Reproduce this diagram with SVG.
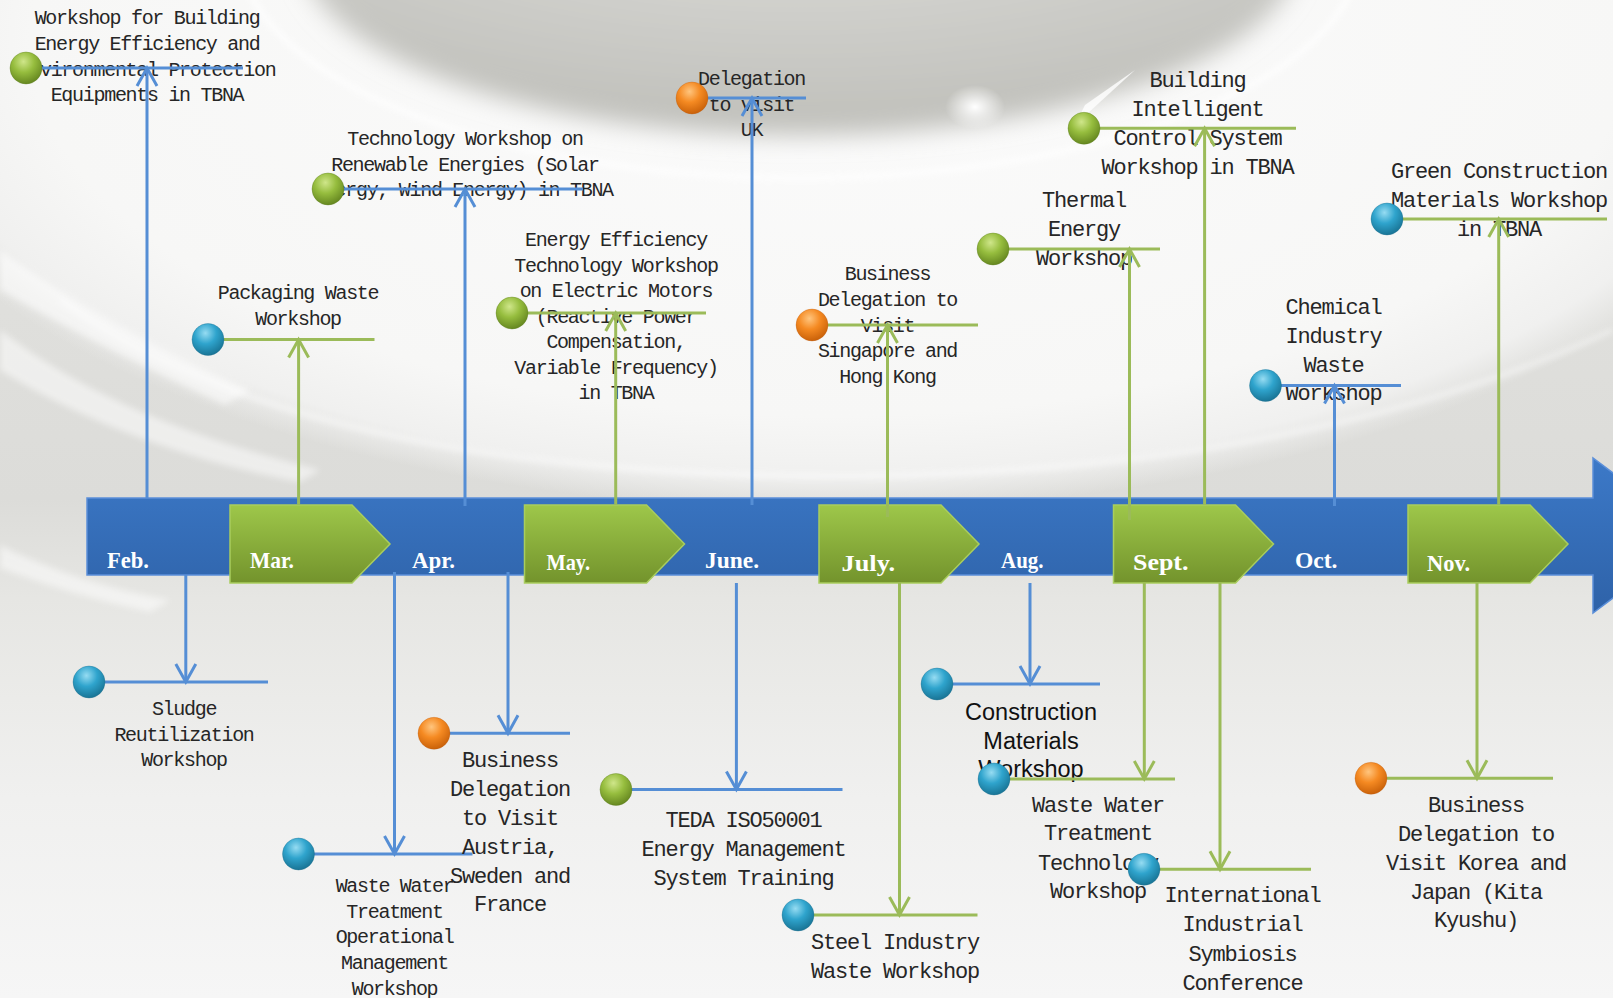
<svg xmlns="http://www.w3.org/2000/svg" width="1613" height="998" viewBox="0 0 1613 998">
<style>
.s{font-family:"Liberation Mono","DejaVu Sans Mono",monospace;font-size:20px;letter-spacing:-1.3px;fill:#262626;text-anchor:middle}
.l{font-family:"Liberation Mono","DejaVu Sans Mono",monospace;font-size:22px;letter-spacing:-1.2px;fill:#262626;text-anchor:middle}
.a{font-family:"Liberation Sans",Arial,sans-serif;font-size:23.5px;fill:#111;text-anchor:middle}
.m{font-family:"Liberation Serif","Times New Roman",serif;font-size:24px;font-weight:bold;fill:#fff}
.hb{stroke:#558ed5;stroke-width:3;fill:none}
.hg{stroke:#9bbb59;stroke-width:3;fill:none}
.cb{stroke:#558ed5;stroke-width:3;fill:none;marker-end:url(#ab)}
.cg{stroke:#9bbb59;stroke-width:3;fill:none;marker-end:url(#ag)}
.bg{fill:url(#gBlue);stroke:#1c6d8c;stroke-opacity:.35;stroke-width:1}
.gg{fill:url(#gGreen);stroke:#5a7a1a;stroke-opacity:.35;stroke-width:1}
.og{fill:url(#gOrange);stroke:#b85a10;stroke-opacity:.3;stroke-width:1}
.chev{fill:url(#chevG);stroke:#a9cd5e;stroke-width:1.5}
</style>
<defs>
<filter id="soft" x="-20%" y="-40%" width="140%" height="180%"><feGaussianBlur stdDeviation="12"/></filter>
<filter id="soft2" x="-10%" y="-30%" width="120%" height="160%"><feGaussianBlur stdDeviation="3"/></filter>
<linearGradient id="bgV" x1="0" y1="0" x2="0" y2="1">
<stop offset="0" stop-color="#e4e4e1"/><stop offset="0.5" stop-color="#dcdcd9"/><stop offset="0.6" stop-color="#e6e6e3"/><stop offset="0.8" stop-color="#f0f0ef"/><stop offset="1" stop-color="#f6f6f6"/>
</linearGradient>
<radialGradient id="bigOval" cx="0.5" cy="0.5" r="0.5">
<stop offset="0" stop-color="#fbfbfb"/><stop offset="0.8" stop-color="#f7f7f6"/><stop offset="0.93" stop-color="#f0f0ef"/><stop offset="1" stop-color="#f0f0ef" stop-opacity="0"/>
</radialGradient>
<radialGradient id="innerGray" cx="0.5" cy="0.2" r="0.8">
<stop offset="0" stop-color="#e4e4e1"/><stop offset="0.55" stop-color="#d0d0cc"/><stop offset="1" stop-color="#bfbfba"/>
</radialGradient>
<radialGradient id="spot" cx="0.5" cy="0.5" r="0.5">
<stop offset="0" stop-color="#ffffff"/><stop offset="1" stop-color="#ffffff" stop-opacity="0"/>
</radialGradient>
<linearGradient id="barG" x1="0" y1="0" x2="0" y2="1">
<stop offset="0" stop-color="#3c79c8"/><stop offset="1" stop-color="#2e62a8"/>
</linearGradient>
<linearGradient id="chevG" x1="0" y1="0" x2="0" y2="1">
<stop offset="0" stop-color="#9ec74a"/><stop offset="1" stop-color="#73932c"/>
</linearGradient>
<radialGradient id="gGreen" cx="0.42" cy="0.3" r="0.75">
<stop offset="0" stop-color="#cfe68a"/><stop offset="0.45" stop-color="#96bd3e"/><stop offset="1" stop-color="#5f801c"/>
</radialGradient>
<radialGradient id="gBlue" cx="0.42" cy="0.3" r="0.75">
<stop offset="0" stop-color="#96dcf2"/><stop offset="0.45" stop-color="#2fa4cd"/><stop offset="1" stop-color="#166e8e"/>
</radialGradient>
<radialGradient id="gOrange" cx="0.42" cy="0.3" r="0.75">
<stop offset="0" stop-color="#ffc57e"/><stop offset="0.45" stop-color="#f58a22"/><stop offset="1" stop-color="#c45c06"/>
</radialGradient>
<marker id="ab" markerUnits="userSpaceOnUse" viewBox="-22 -13 26 26" markerWidth="26" markerHeight="26" refX="0" refY="0" orient="auto">
<path d="M-18,-10 L0,0 L-18,10" fill="none" stroke="#558ed5" stroke-width="3"/>
</marker>
<marker id="ag" markerUnits="userSpaceOnUse" viewBox="-22 -13 26 26" markerWidth="26" markerHeight="26" refX="0" refY="0" orient="auto">
<path d="M-18,-10 L0,0 L-18,10" fill="none" stroke="#9bbb59" stroke-width="3"/>
</marker>
</defs>

<g id="background">
<rect x="0" y="0" width="1613" height="998" fill="url(#bgV)"/>
<ellipse cx="830" cy="40" rx="1000" ry="470" fill="url(#bigOval)"/>
<path d="M60,300 C250,440 560,478 860,476 C1160,474 1420,420 1613,330" fill="none" stroke="#ffffff" stroke-width="3" opacity="0.8" filter="url(#soft2)"/>
<ellipse cx="800" cy="-50" rx="560" ry="228" fill="none" stroke="#ffffff" stroke-width="5" opacity="0.8" filter="url(#soft2)"/>
<ellipse cx="800" cy="-50" rx="500" ry="185" fill="url(#innerGray)" filter="url(#soft)"/>
<ellipse cx="975" cy="107" rx="30" ry="22" fill="url(#spot)"/>
<path d="M1085,105 L1135,70 L1075,125 Z" fill="#ffffff" opacity="0.8"/>
<path d="M0,250 C70,300 150,345 250,390 L225,405 C150,370 70,330 0,290 Z" fill="#ffffff" opacity="0.55" filter="url(#soft2)"/>
<path d="M0,330 C90,400 200,440 320,470 L300,482 C190,462 80,420 0,370 Z" fill="#ffffff" opacity="0.5" filter="url(#soft2)"/>
<path d="M0,545 C50,570 110,590 170,600 L150,612 C95,600 45,585 0,568 Z" fill="#ffffff" opacity="0.5" filter="url(#soft2)"/>
</g>

<g id="timeline">
<path d="M87,498 H1593 V458 L1696,535.5 L1593,613 V575 H87 Z" fill="url(#barG)" stroke="#5b8fd9" stroke-width="1.5"/>
<path d="M230,505 H352 L390,544 L352,583 H230 Z" class="chev"/>
<path d="M524.5,505 H646.5 L684.5,544 L646.5,583 H524.5 Z" class="chev"/>
<path d="M819,505 H941 L979,544 L941,583 H819 Z" class="chev"/>
<path d="M1113.5,505 H1235.5 L1273.5,544 L1235.5,583 H1113.5 Z" class="chev"/>
<path d="M1408,505 H1530 L1568,544 L1530,583 H1408 Z" class="chev"/>
<text class="m" x="107" y="568" textLength="42" lengthAdjust="spacingAndGlyphs">Feb.</text>
<text class="m" x="250" y="568" textLength="44" lengthAdjust="spacingAndGlyphs">Mar.</text>
<text class="m" x="412" y="568" textLength="43" lengthAdjust="spacingAndGlyphs">Apr.</text>
<text class="m" x="546.5" y="570" textLength="43.5" lengthAdjust="spacingAndGlyphs">May.</text>
<text class="m" x="705" y="568" textLength="54" lengthAdjust="spacingAndGlyphs">June.</text>
<text class="m" x="841.5" y="571" textLength="53.5" lengthAdjust="spacingAndGlyphs">July.</text>
<text class="m" x="1001" y="568" textLength="42.5" lengthAdjust="spacingAndGlyphs">Aug.</text>
<text class="m" x="1133" y="570" textLength="55.5" lengthAdjust="spacingAndGlyphs">Sept.</text>
<text class="m" x="1295" y="568" textLength="42.5" lengthAdjust="spacingAndGlyphs">Oct.</text>
<text class="m" x="1427" y="571" textLength="43" lengthAdjust="spacingAndGlyphs">Nov.</text>
</g>

<g id="node-feb-top">
<text class="s"><tspan x="147" y="24">Workshop for Building</tspan><tspan x="147" y="50">Energy Efficiency and</tspan><tspan x="147" y="75.5">Environmental Protection</tspan><tspan x="147" y="101">Equipments in TBNA</tspan></text>
<line class="hb" x1="26" y1="68" x2="243" y2="68"/>
<circle class="gg" cx="26" cy="68" r="16"/>
</g>
<g id="node-apr-top">
<text class="s"><tspan x="465" y="145">Technology Workshop on</tspan><tspan x="465" y="171">Renewable Energies (Solar</tspan><tspan x="463" y="196">Energy, Wind Energy) in TBNA</tspan></text>
<line class="hb" x1="328" y1="189" x2="583" y2="189"/>
<circle class="gg" cx="328" cy="189" r="16"/>
</g>
<g id="node-mar-top">
<text class="s"><tspan x="298" y="299">Packaging Waste</tspan><tspan x="298" y="324.5">Workshop</tspan></text>
<line class="hg" x1="208" y1="339.5" x2="374.5" y2="339.5"/>
<circle class="bg" cx="208" cy="339.5" r="16"/>
</g>
<g id="node-may-top">
<text class="s"><tspan x="616" y="246">Energy Efficiency</tspan><tspan x="616" y="271.5">Technology Workshop</tspan><tspan x="616" y="297">on Electric Motors</tspan><tspan x="616" y="322.5">(Reactive Power</tspan><tspan x="616" y="348">Compensation,</tspan><tspan x="616" y="373.5">Variable Frequency)</tspan><tspan x="616" y="399">in TBNA</tspan></text>
<line class="hg" x1="512" y1="313" x2="706" y2="313"/>
<circle class="gg" cx="512" cy="313" r="16"/>
</g>
<g id="node-june-top">
<text class="s"><tspan x="751.5" y="85">Delegation</tspan><tspan x="751.5" y="110.5">to visit</tspan><tspan x="751.5" y="136">UK</tspan></text>
<line class="hb" x1="692" y1="98" x2="806" y2="98"/>
<circle class="og" cx="692" cy="98" r="16"/>
</g>
<g id="node-july-top">
<text class="s"><tspan x="887.5" y="280">Business</tspan><tspan x="887.5" y="306">Delegation to</tspan><tspan x="887.5" y="331.5">Visit</tspan><tspan x="887.5" y="357">Singapore and</tspan><tspan x="887.5" y="382.5">Hong Kong</tspan></text>
<line class="hg" x1="812" y1="325" x2="978" y2="325"/>
<circle class="og" cx="812" cy="325" r="16"/>
</g>
<g id="node-sept-top-thermal">
<text class="l"><tspan x="1084" y="207">Thermal</tspan><tspan x="1084" y="236">Energy</tspan><tspan x="1084" y="265">Workshop</tspan></text>
<line class="hg" x1="993" y1="249" x2="1160" y2="249"/>
<circle class="gg" cx="993" cy="249" r="16"/>
</g>
<g id="node-sept-top-building">
<text class="l"><tspan x="1197.5" y="87">Building</tspan><tspan x="1197.5" y="116">Intelligent</tspan><tspan x="1197.5" y="145">Control System</tspan><tspan x="1197.5" y="173.5">Workshop in TBNA</tspan></text>
<line class="hg" x1="1084" y1="128.3" x2="1296" y2="128.3"/>
<circle class="gg" cx="1084" cy="128.3" r="16"/>
</g>
<g id="node-oct-top">
<text class="l"><tspan x="1333.5" y="313.5">Chemical</tspan><tspan x="1333.5" y="342.5">Industry</tspan><tspan x="1333.5" y="371.5">Waste</tspan><tspan x="1333.5" y="400">Workshop</tspan></text>
<line class="hb" x1="1265.5" y1="385.5" x2="1401" y2="385.5"/>
<circle class="bg" cx="1265.5" cy="385.5" r="16"/>
</g>
<g id="node-nov-top">
<text class="l"><tspan x="1499" y="177.5">Green Construction</tspan><tspan x="1499" y="206.5">Materials Workshop</tspan><tspan x="1499" y="236">in TBNA</tspan></text>
<line class="hg" x1="1387" y1="219" x2="1607" y2="219"/>
<circle class="bg" cx="1387" cy="219" r="16"/>
</g>
<g id="node-feb-bottom">
<text class="s"><tspan x="184" y="715">Sludge</tspan><tspan x="184" y="740.5">Reutilization</tspan><tspan x="184" y="766">Workshop</tspan></text>
<line class="hb" x1="89" y1="682" x2="268" y2="682"/>
<circle class="bg" cx="89" cy="682" r="16"/>
</g>
<g id="node-apr-bottom-wastewater">
<text class="s"><tspan x="394.5" y="892">Waste Water</tspan><tspan x="394.5" y="917.5">Treatment</tspan><tspan x="394.5" y="943">Operational</tspan><tspan x="394.5" y="969">Management</tspan><tspan x="394.5" y="994.5">Workshop</tspan></text>
<line class="hb" x1="298.5" y1="854" x2="472.5" y2="854"/>
<circle class="bg" cx="298.5" cy="854" r="16"/>
</g>
<g id="node-apr-bottom-austria">
<text class="l"><tspan x="510" y="767">Business</tspan><tspan x="510" y="795.5">Delegation</tspan><tspan x="510" y="824.5">to Visit</tspan><tspan x="510" y="853.5">Austria,</tspan><tspan x="510" y="882.5">Sweden and</tspan><tspan x="510" y="911">France</tspan></text>
<line class="hb" x1="434" y1="733.3" x2="570" y2="733.3"/>
<circle class="og" cx="434" cy="733.3" r="16"/>
</g>
<g id="node-june-bottom">
<text class="l"><tspan x="743.5" y="827">TEDA ISO50001</tspan><tspan x="743.5" y="856">Energy Management</tspan><tspan x="743.5" y="885">System Training</tspan></text>
<line class="hb" x1="616" y1="789.5" x2="842.5" y2="789.5"/>
<circle class="gg" cx="616" cy="789.5" r="16"/>
</g>
<g id="node-july-bottom">
<text class="l"><tspan x="895" y="948.5">Steel Industry</tspan><tspan x="895" y="977.5">Waste Workshop</tspan></text>
<line class="hg" x1="798" y1="915" x2="977.5" y2="915"/>
<circle class="bg" cx="798" cy="915" r="16"/>
</g>
<g id="node-aug-bottom">
<text class="a"><tspan x="1031" y="720">Construction</tspan><tspan x="1031" y="749">Materials</tspan><tspan x="1031" y="777">Workshop</tspan></text>
<line class="hb" x1="937" y1="684" x2="1100" y2="684"/>
<circle class="bg" cx="937" cy="684" r="16"/>
</g>
<g id="node-sept-bottom-wastewater">
<text class="l"><tspan x="1098" y="811.5">Waste Water</tspan><tspan x="1098" y="840">Treatment</tspan><tspan x="1098" y="869.5">Technology</tspan><tspan x="1098" y="898">Workshop</tspan></text>
<line class="hg" x1="994" y1="779" x2="1175" y2="779"/>
<circle class="bg" cx="994" cy="779" r="16"/>
</g>
<g id="node-sept-bottom-symbiosis">
<text class="l"><tspan x="1242.5" y="901.5">International</tspan><tspan x="1242.5" y="930.5">Industrial</tspan><tspan x="1242.5" y="960.5">Symbiosis</tspan><tspan x="1242.5" y="989.5">Conference</tspan></text>
<line class="hg" x1="1144" y1="869.3" x2="1311" y2="869.3"/>
<circle class="bg" cx="1144" cy="869.3" r="16"/>
</g>
<g id="node-nov-bottom">
<text class="l"><tspan x="1476" y="811.5">Business</tspan><tspan x="1476" y="841">Delegation to</tspan><tspan x="1476" y="869.5">Visit Korea and</tspan><tspan x="1476" y="898.5">Japan (Kita</tspan><tspan x="1476" y="927">Kyushu)</tspan></text>
<line class="hg" x1="1371" y1="778.3" x2="1553" y2="778.3"/>
<circle class="og" cx="1371" cy="778.3" r="16"/>
</g>

<g id="connectors">
<line class="cb" x1="147" y1="498" x2="147" y2="68"/>
<line class="cg" x1="298.6" y1="505" x2="298.6" y2="339.5"/>
<line class="cb" x1="465" y1="506" x2="465" y2="189"/>
<line class="cg" x1="615.7" y1="505" x2="615.7" y2="313"/>
<line class="cb" x1="752" y1="505" x2="752" y2="98"/>
<line class="cg" x1="887.5" y1="517" x2="887.5" y2="325"/>
<line class="cg" x1="1129.5" y1="520" x2="1129.5" y2="249"/>
<line class="cg" x1="1204.6" y1="505" x2="1204.6" y2="128.3"/>
<line class="cb" x1="1334.5" y1="506" x2="1334.5" y2="385.5"/>
<line class="cg" x1="1498.7" y1="505" x2="1498.7" y2="219"/>
<line class="cb" x1="185.8" y1="575" x2="185.8" y2="682"/>
<line class="cb" x1="394.5" y1="572" x2="394.5" y2="854"/>
<line class="cb" x1="508" y1="572" x2="508" y2="733.3"/>
<line class="cb" x1="736.4" y1="583" x2="736.4" y2="789.5"/>
<line class="cg" x1="899.5" y1="583" x2="899.5" y2="915"/>
<line class="cb" x1="1030" y1="583" x2="1030" y2="684"/>
<line class="cg" x1="1144.3" y1="583" x2="1144.3" y2="779"/>
<line class="cg" x1="1220" y1="583" x2="1220" y2="869.3"/>
<line class="cg" x1="1477" y1="583" x2="1477" y2="778.3"/>
</g>
</svg>
